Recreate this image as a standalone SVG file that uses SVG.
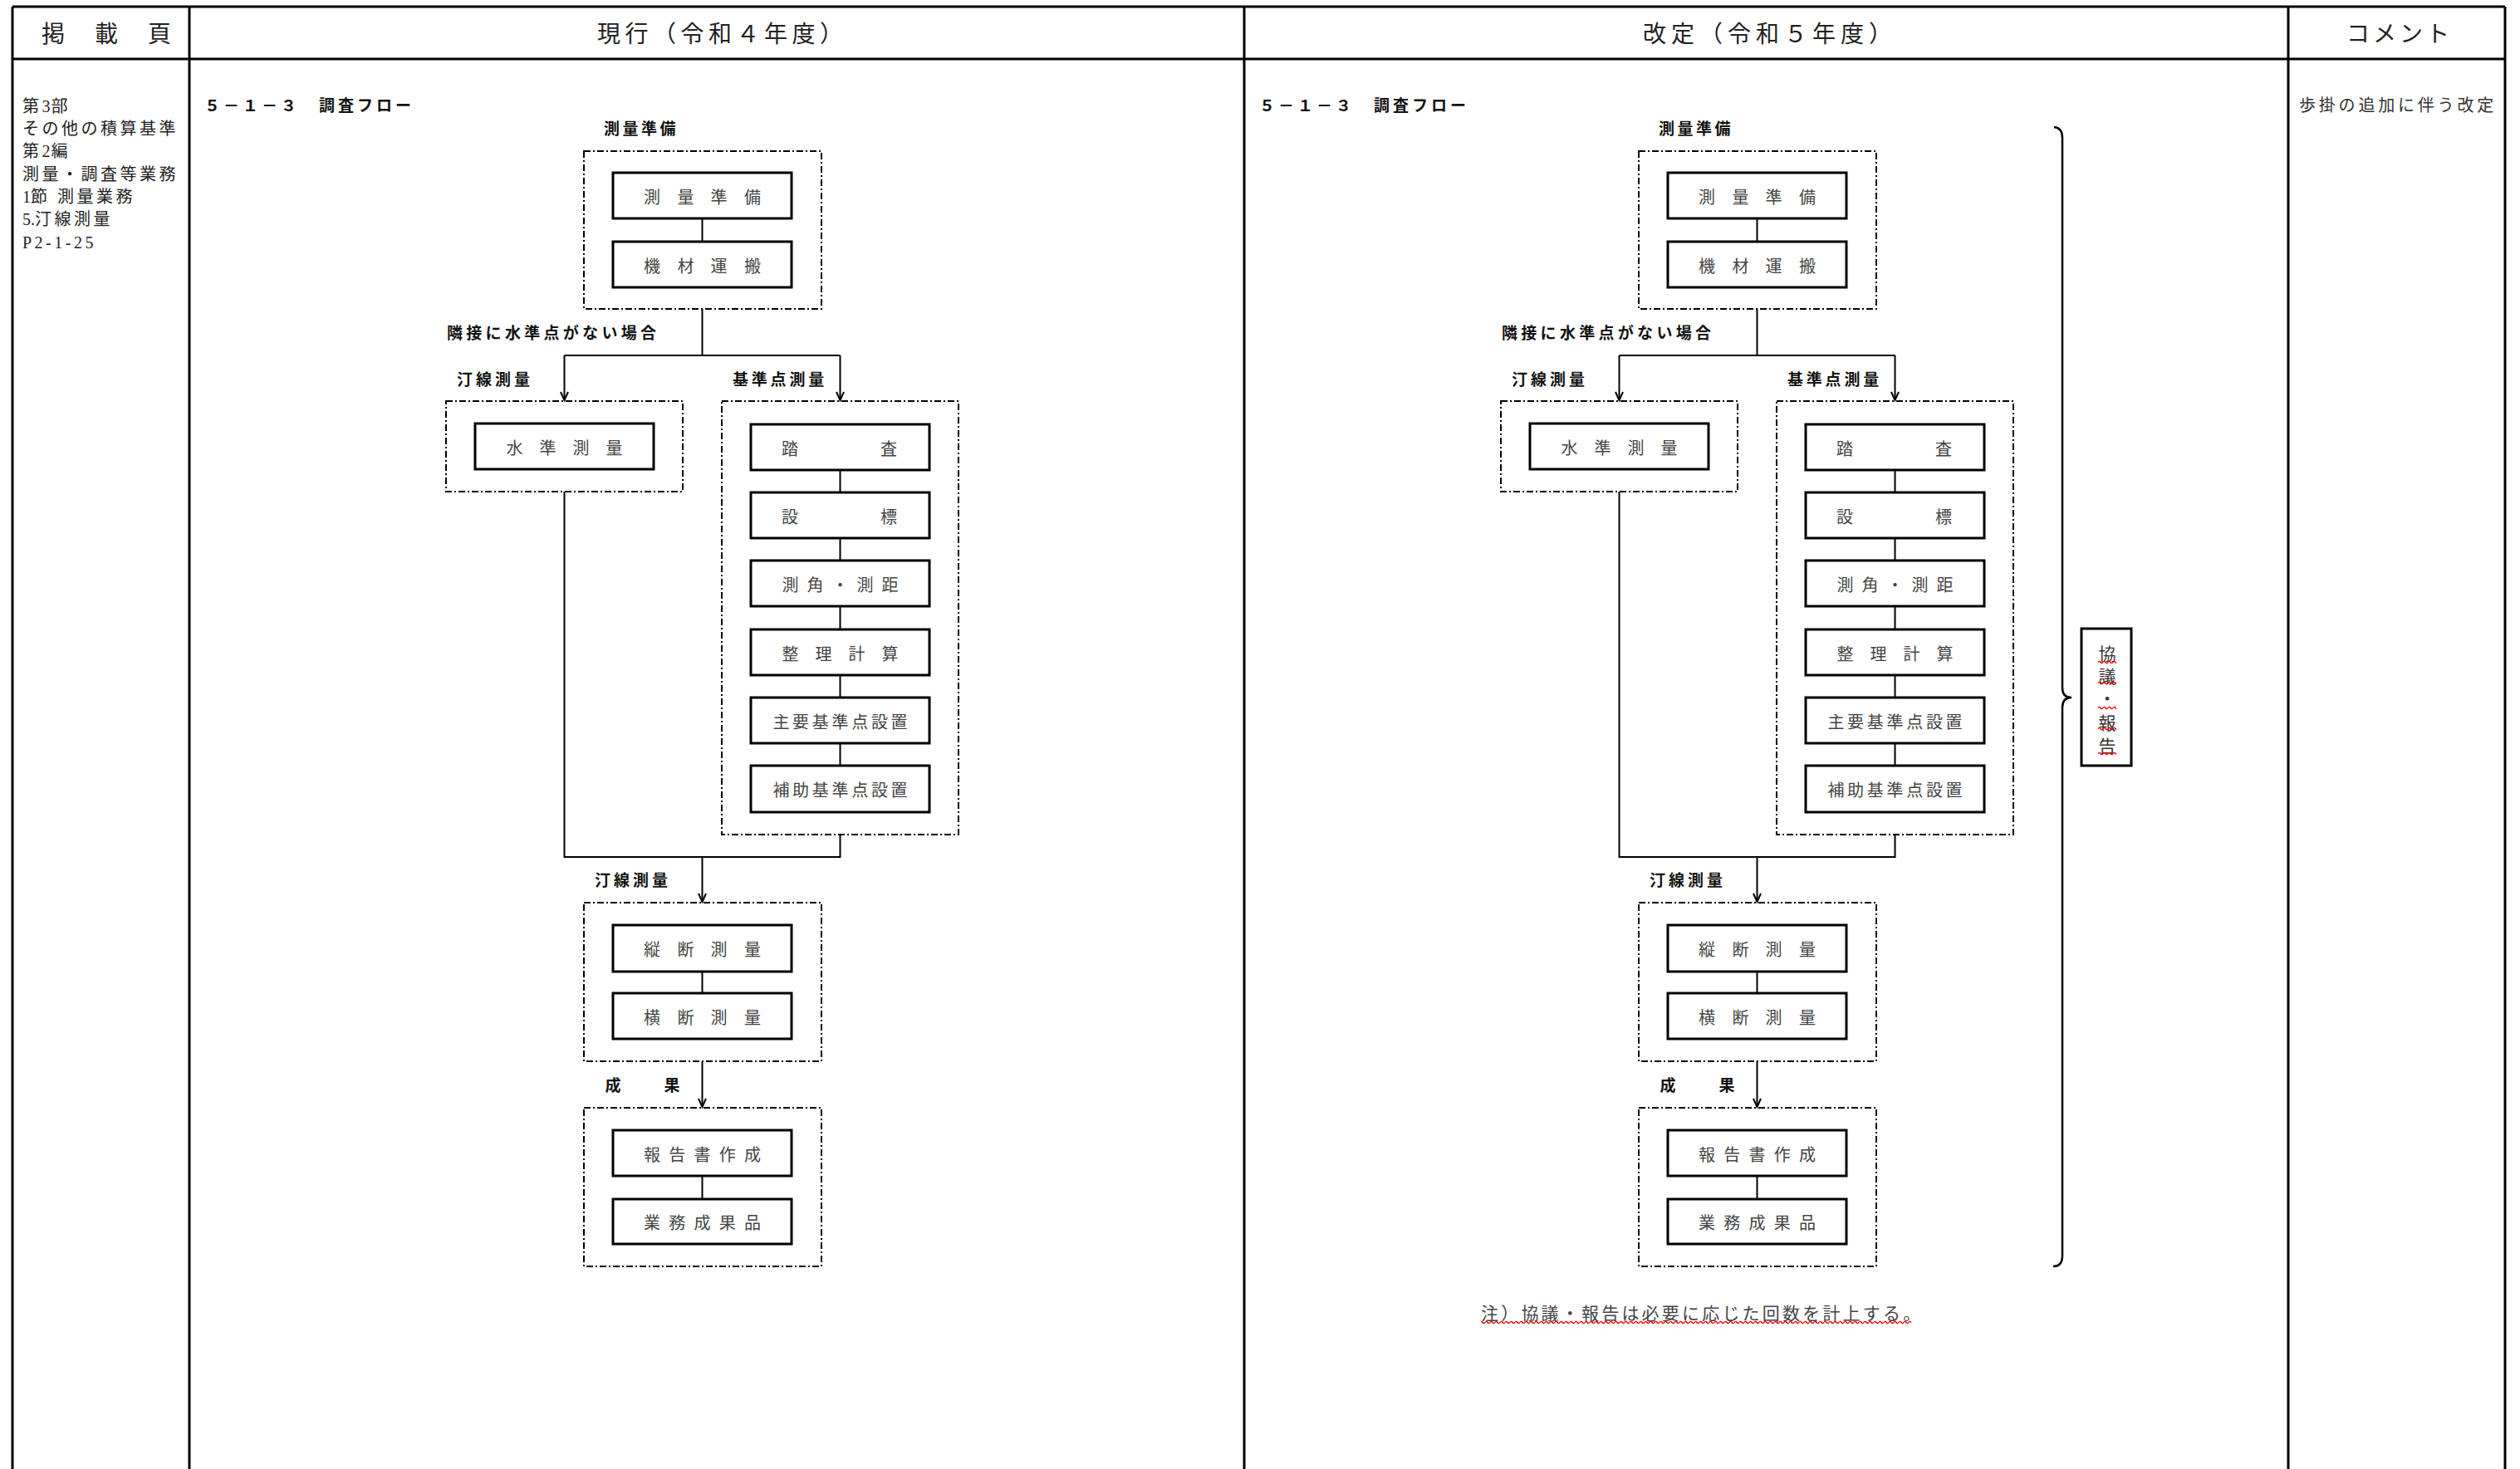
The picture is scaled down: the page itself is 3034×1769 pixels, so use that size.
<svg xmlns="http://www.w3.org/2000/svg" width="3034" height="1769" viewBox="0 0 3034 1769">
<defs>
<style>
.tbl{stroke:#000;stroke-width:3;fill:none}
.hdr{font-family:"Liberation Serif","Noto Sans CJK JP",serif;font-size:28px;fill:#222;dominant-baseline:central}
.side{font-family:"Liberation Serif","Noto Sans CJK JP",serif;font-size:20px;fill:#222;letter-spacing:3.5px;dominant-baseline:central}
.lbl{font-family:"Noto Sans CJK JP","Noto Sans",sans-serif;font-size:19px;font-weight:bold;fill:#111;dominant-baseline:central}
.grp{fill:none;stroke:#000;stroke-width:2;stroke-dasharray:8 3 2 3}
.box{fill:#fff;stroke:#000;stroke-width:3}
.bt{font-family:"Noto Sans CJK JP",sans-serif;font-size:20px;fill:#444;text-anchor:middle;dominant-baseline:central}
.con{fill:none;stroke:#000;stroke-width:2}
.arr{marker-end:url(#ah)}
.cm{font-family:"Liberation Serif","Noto Sans CJK JP",serif;font-size:20px;fill:#333;letter-spacing:3.8px;dominant-baseline:central}
.note{font-family:"Liberation Serif","Noto Sans CJK JP",serif;font-size:21px;fill:#444;letter-spacing:3.2px;dominant-baseline:central}
.vt{font-family:"Noto Sans CJK JP",sans-serif;font-size:21px;fill:#333;text-anchor:middle;dominant-baseline:central}
.wv{fill:url(#wave)}
</style>
<marker id="ah" markerUnits="userSpaceOnUse" viewBox="-12 -6 14 12" markerWidth="14" markerHeight="12" refX="0" refY="0" orient="auto"><path d="M-10,-4.5 L0,0 L-10,4.5" fill="none" stroke="#000" stroke-width="2"/></marker>
<pattern id="wave" patternUnits="userSpaceOnUse" width="6" height="5"><path d="M0,2.5 Q1.5,0.3 3,2.5 T6,2.5" fill="none" stroke="#f00" stroke-width="1.4"/></pattern>
</defs>
<rect width="3034" height="1769" fill="#fff"/>

<g id="table">
<path class="tbl" d="M15,8H3016M15,71H3016M15,8V1769M228,8V1769M1498,8V1769M2755,8V1769M3016,8V1769"/>
<text class="hdr" y="41" text-anchor="middle" x="64 128 192">掲載頁</text>
<text class="hdr" x="719" y="41" letter-spacing="5.5">現行（令和４年度）</text>
<text class="hdr" x="1978" y="41" letter-spacing="6">改定（令和５年度）</text>
<text class="hdr" x="2889" y="41" text-anchor="middle" letter-spacing="4">コメント</text>
</g>

<g id="page-ref">
<text class="side" x="27" y="127.5">第<tspan letter-spacing="1">3</tspan>部</text>
<text class="side" x="27" y="155">その他の積算基準</text>
<text class="side" x="27" y="182">第<tspan letter-spacing="1">2</tspan>編</text>
<text class="side" x="27" y="210">測量・調査等業務</text>
<text class="side" x="27" y="237"><tspan letter-spacing="0">1</tspan>節 測量業務</text>
<text class="side" x="27" y="264"><tspan letter-spacing="0">5.</tspan>汀線測量</text>
<text class="side" x="27" y="292" letter-spacing="0.5">P2-1-25</text>
</g>

<g id="comment">
<text class="cm" x="2768" y="127">歩掛の追加に伴う改定</text>
</g>

<!-- current flow -->
<g id="current-flow">
<text class="lbl" x="246" y="125" letter-spacing="4">５－１－３　調査フロー</text>
<g id="c-connectors" class="con">
<path d="M845.5,263V291"/>
<path d="M845.5,372V428"/>
<path d="M679.5,428H1011.5"/>
<path class="arr" d="M679.5,428V482"/>
<path class="arr" d="M1011.5,428V482"/>
<path d="M1011.5,566V593M1011.5,648V675M1011.5,730V758M1011.5,813V840M1011.5,895V922"/>
<path d="M679.5,592V1032H1011.5V1005"/>
<path class="arr" d="M845.5,1032V1086"/>
<path d="M845.5,1170V1196"/>
<path class="arr" d="M845.5,1278V1333"/>
<path d="M845.5,1416V1444"/>
</g>
<g id="c-g1"><text class="lbl" x="727" y="153" letter-spacing="3.5">測量準備</text><rect class="grp" x="703" y="182" width="286" height="190"/></g>
<g id="c-n1"><rect class="box" x="738" y="208" width="215" height="55"/><text class="bt" x="785 825.5 865.5 906" y="236">測量準備</text></g>
<g id="c-n2"><rect class="box" x="738" y="291" width="215" height="55"/><text class="bt" x="785 825.5 865.5 906" y="319">機材運搬</text></g>
<g id="c-cond"><text class="lbl" x="538" y="399" letter-spacing="4.3">隣接に水準点がない場合</text></g>
<g id="c-g2"><text class="lbl" x="550" y="455" letter-spacing="4">汀線測量</text><rect class="grp" x="537" y="483" width="285" height="109"/></g>
<g id="c-n3"><rect class="box" x="572" y="510" width="215" height="55"/><text class="bt" x="619.5 659.5 699.5 739.5" y="538">水準測量</text></g>
<g id="c-g3"><text class="lbl" x="882" y="455" letter-spacing="3.8">基準点測量</text><rect class="grp" x="869" y="483" width="285" height="522"/></g>
<g id="c-n4"><rect class="box" x="904" y="511" width="215" height="55"/><text class="bt" x="951 1070" y="539">踏査</text></g>
<g id="c-n5"><rect class="box" x="904" y="593" width="215" height="55"/><text class="bt" x="951 1070" y="621">設標</text></g>
<g id="c-n6"><rect class="box" x="904" y="675" width="215" height="55"/><text class="bt" x="951.5 981.5 1011.5 1041.5 1071.5" y="703">測角・測距</text></g>
<g id="c-n7"><rect class="box" x="904" y="758" width="215" height="55"/><text class="bt" x="951.5 991.5 1031.5 1071.5" y="786">整理計算</text></g>
<g id="c-n8"><rect class="box" x="904" y="840" width="215" height="55"/><text class="bt" x="940.4 964.1 987.8 1011.5 1035.2 1058.9 1082.6" y="868">主要基準点設置</text></g>
<g id="c-n9"><rect class="box" x="904" y="922" width="215" height="56"/><text class="bt" x="940.4 964.1 987.8 1011.5 1035.2 1058.9 1082.6" y="950">補助基準点設置</text></g>
<g id="c-g4"><text class="lbl" x="716" y="1058" letter-spacing="4">汀線測量</text><rect class="grp" x="703" y="1087" width="286" height="191"/></g>
<g id="c-n10"><rect class="box" x="738" y="1114" width="215" height="56"/><text class="bt" x="785 825.5 865.5 906" y="1142">縦断測量</text></g>
<g id="c-n11"><rect class="box" x="738" y="1196" width="215" height="55"/><text class="bt" x="785 825.5 865.5 906" y="1224">横断測量</text></g>
<g id="c-g5"><text class="lbl" x="738 809" y="1305" text-anchor="middle">成果</text><rect class="grp" x="703" y="1334" width="286" height="191"/></g>
<g id="c-n12"><rect class="box" x="738" y="1361" width="215" height="55"/><text class="bt" x="785 815.25 845.5 875.75 906" y="1389">報告書作成</text></g>
<g id="c-n13"><rect class="box" x="738" y="1444" width="215" height="54"/><text class="bt" x="785 815.25 845.5 875.75 906" y="1471">業務成果品</text></g>
</g>

<!-- revised flow -->
<g id="revised-flow" transform="translate(1270,0)">
<text class="lbl" x="246" y="125" letter-spacing="4">５－１－３　調査フロー</text>
<g id="r-connectors" class="con">
<path d="M845.5,263V291"/>
<path d="M845.5,372V428"/>
<path d="M679.5,428H1011.5"/>
<path class="arr" d="M679.5,428V482"/>
<path class="arr" d="M1011.5,428V482"/>
<path d="M1011.5,566V593M1011.5,648V675M1011.5,730V758M1011.5,813V840M1011.5,895V922"/>
<path d="M679.5,592V1032H1011.5V1005"/>
<path class="arr" d="M845.5,1032V1086"/>
<path d="M845.5,1170V1196"/>
<path class="arr" d="M845.5,1278V1333"/>
<path d="M845.5,1416V1444"/>
</g>
<g id="r-g1"><text class="lbl" x="727" y="153" letter-spacing="3.5">測量準備</text><rect class="grp" x="703" y="182" width="286" height="190"/></g>
<g id="r-n1"><rect class="box" x="738" y="208" width="215" height="55"/><text class="bt" x="785 825.5 865.5 906" y="236">測量準備</text></g>
<g id="r-n2"><rect class="box" x="738" y="291" width="215" height="55"/><text class="bt" x="785 825.5 865.5 906" y="319">機材運搬</text></g>
<g id="r-cond"><text class="lbl" x="538" y="399" letter-spacing="4.3">隣接に水準点がない場合</text></g>
<g id="r-g2"><text class="lbl" x="550" y="455" letter-spacing="4">汀線測量</text><rect class="grp" x="537" y="483" width="285" height="109"/></g>
<g id="r-n3"><rect class="box" x="572" y="510" width="215" height="55"/><text class="bt" x="619.5 659.5 699.5 739.5" y="538">水準測量</text></g>
<g id="r-g3"><text class="lbl" x="882" y="455" letter-spacing="3.8">基準点測量</text><rect class="grp" x="869" y="483" width="285" height="522"/></g>
<g id="r-n4"><rect class="box" x="904" y="511" width="215" height="55"/><text class="bt" x="951 1070" y="539">踏査</text></g>
<g id="r-n5"><rect class="box" x="904" y="593" width="215" height="55"/><text class="bt" x="951 1070" y="621">設標</text></g>
<g id="r-n6"><rect class="box" x="904" y="675" width="215" height="55"/><text class="bt" x="951.5 981.5 1011.5 1041.5 1071.5" y="703">測角・測距</text></g>
<g id="r-n7"><rect class="box" x="904" y="758" width="215" height="55"/><text class="bt" x="951.5 991.5 1031.5 1071.5" y="786">整理計算</text></g>
<g id="r-n8"><rect class="box" x="904" y="840" width="215" height="55"/><text class="bt" x="940.4 964.1 987.8 1011.5 1035.2 1058.9 1082.6" y="868">主要基準点設置</text></g>
<g id="r-n9"><rect class="box" x="904" y="922" width="215" height="56"/><text class="bt" x="940.4 964.1 987.8 1011.5 1035.2 1058.9 1082.6" y="950">補助基準点設置</text></g>
<g id="r-g4"><text class="lbl" x="716" y="1058" letter-spacing="4">汀線測量</text><rect class="grp" x="703" y="1087" width="286" height="191"/></g>
<g id="r-n10"><rect class="box" x="738" y="1114" width="215" height="56"/><text class="bt" x="785 825.5 865.5 906" y="1142">縦断測量</text></g>
<g id="r-n11"><rect class="box" x="738" y="1196" width="215" height="55"/><text class="bt" x="785 825.5 865.5 906" y="1224">横断測量</text></g>
<g id="r-g5"><text class="lbl" x="738 809" y="1305" text-anchor="middle">成果</text><rect class="grp" x="703" y="1334" width="286" height="191"/></g>
<g id="r-n12"><rect class="box" x="738" y="1361" width="215" height="55"/><text class="bt" x="785 815.25 845.5 875.75 906" y="1389">報告書作成</text></g>
<g id="r-n13"><rect class="box" x="738" y="1444" width="215" height="54"/><text class="bt" x="785 815.25 845.5 875.75 906" y="1471">業務成果品</text></g>
</g>

<g id="brace">
<path d="M2473,153 Q2483,154 2483,166 L2483,828 Q2483,840 2494,840 Q2483,840 2483,852 L2483,1513 Q2483,1525 2472,1525" fill="none" stroke="#000" stroke-width="2.5"/>
</g>
<g id="consult">
<rect class="box" x="2506" y="757" width="60" height="165"/>
<text class="vt" x="2537" y="786">協</text>
<text class="vt" x="2537" y="813">議</text>
<text class="vt" x="2537" y="840">・</text>
<text class="vt" x="2537" y="869">報</text>
<text class="vt" x="2537" y="897">告</text>
<rect class="wv" x="2526" y="795" width="22" height="5"/>
<rect class="wv" x="2526" y="820" width="22" height="5"/>
<rect class="wv" x="2526" y="850" width="22" height="5"/>
<rect class="wv" x="2526" y="875" width="22" height="5"/>
<rect class="wv" x="2526" y="905" width="22" height="5"/>
</g>
<g id="note">
<text class="note" x="1783" y="1582">注）協議・報告は必要に応じた回数を計上する。</text>
<rect class="wv" x="1783" y="1590" width="518" height="5"/>
</g>
</svg>
